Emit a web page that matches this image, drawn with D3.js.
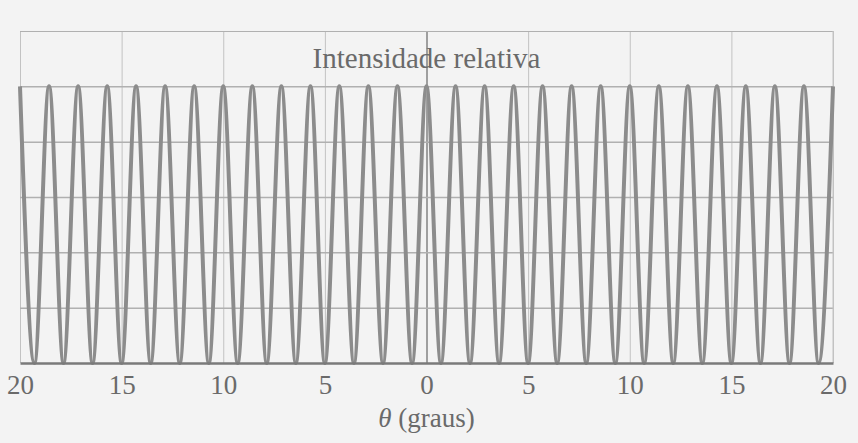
<!DOCTYPE html>
<html>
<head>
<meta charset="utf-8">
<script src="https://cdn.jsdelivr.net/npm/d3@7"></script>
<style>
  html, body { margin: 0; padding: 0; background: #f3f3f3; }
  svg { display: block; }
  text { font-family: "Liberation Serif", "Times New Roman", Times, "DejaVu Serif", "Noto Serif", serif; }
</style>
</head>
<body>
<div id="chart"></div>
<script>
// fringe maxima and minima (degrees)
const peakAngles = [-20, -18.57, -17.14, -15.71, -14.29, -12.86, -11.43, -10, -8.57, -7.14,
  -5.71, -4.29, -2.86, -1.43, 0, 1.43, 2.86, 4.29, 5.71, 7.14, 8.57, 10, 11.43, 12.86,
  14.29, 15.71, 17.14, 18.57, 20];
const troughAngles = [-19.29, -17.86, -16.43, -15, -13.57, -12.14, -10.71, -9.29, -7.86,
  -6.43, -5, -3.57, -2.14, -0.71, 0.71, 2.14, 3.57, 5, 6.43, 7.86, 9.29, 10.71, 12.14,
  13.57, 15, 16.43, 17.86, 19.29];
const peakIntensity = 1;
const troughIntensity = 0;

const xTicks = [-20, -15, -10, -5, 0, 5, 10, 15, 20];
const yGrid = [0.2, 0.4, 0.6, 0.8, 1.0, 1.2];

const W = 858, H = 443;
const margin = { top: 31, right: 25, bottom: 80, left: 20 };
const width = W - margin.left - margin.right;
const height = H - margin.top - margin.bottom;

const svg = d3.select("#chart").append("svg")
  .attr("width", W)
  .attr("height", H)
  .style("background", "#f3f3f3");

const g = svg.append("g")
  .attr("transform", `translate(${margin.left},${margin.top})`);

const x = d3.scaleLinear().domain([-20, 20]).range([0, width]);
const y = d3.scaleLinear().domain([0, 1.2]).range([height, 0]);

// vertical grid
g.append("g")
  .attr("class", "vgrid")
  .call(d3.axisBottom(x).tickValues(xTicks).tickSize(height).tickFormat(""))
  .call(s => s.select(".domain").remove())
  .call(s => s.selectAll("line")
    .attr("stroke", d => d === 0 ? "#8a8a8a" : "#c2c2c2")
    .attr("stroke-width", d => d === 0 ? 1.6 : 1));

// horizontal grid
g.append("g")
  .attr("class", "hgrid")
  .call(d3.axisLeft(y).tickValues(yGrid).tickSize(-width).tickFormat(""))
  .call(s => s.select(".domain").remove())
  .call(s => s.selectAll("line")
    .attr("stroke", "#b0b0b0")
    .attr("stroke-width", d => d === 1.2 ? 1 : 1.5));

// right frame edge
g.append("line")
  .attr("x1", width).attr("x2", width)
  .attr("y1", 0).attr("y2", height)
  .attr("stroke", "#c2c2c2");

g.append("text")
  .attr("x", x(0))
  .attr("y", y(1.1) + 9)
  .attr("text-anchor", "middle")
  .style("font-size", "29px")
  .style("fill", "#6a6a6a")
  .text("Intensidade relativa");

// curve through maxima and minima
const points = peakAngles.map(a => ({ a, v: peakIntensity }))
  .concat(troughAngles.map(a => ({ a, v: troughIntensity })))
  .sort((p, q) => p.a - q.a);

const line = d3.line()
  .x(d => x(d.a))
  .y(d => y(d.v))
  .curve(d3.curveMonotoneX);

g.append("path")
  .datum(points)
  .attr("fill", "none")
  .attr("stroke", "#8c8c8c")
  .attr("stroke-width", 4)
  .attr("stroke-linejoin", "round")
  .attr("d", line);

// x axis
const xAxis = g.append("g")
  .attr("transform", `translate(0,${height})`)
  .call(d3.axisBottom(x).tickValues(xTicks).tickSize(0).tickPadding(12)
    .tickFormat(d => Math.abs(d)));

xAxis.attr("font-family", null);

xAxis.select(".domain")
  .attr("stroke", "#7a7a7a")
  .attr("stroke-width", 2.5);

xAxis.selectAll("text")
  .style("font-size", "27px")
  .style("fill", "#6a6a6a");

const xLabel = g.append("text")
  .attr("x", x(0))
  .attr("y", height + 64)
  .attr("text-anchor", "middle")
  .style("font-size", "27px")
  .style("fill", "#6a6a6a");
xLabel.append("tspan").style("font-style", "italic").text("θ");
xLabel.append("tspan").text(" (graus)");
</script>
</body>
</html>
